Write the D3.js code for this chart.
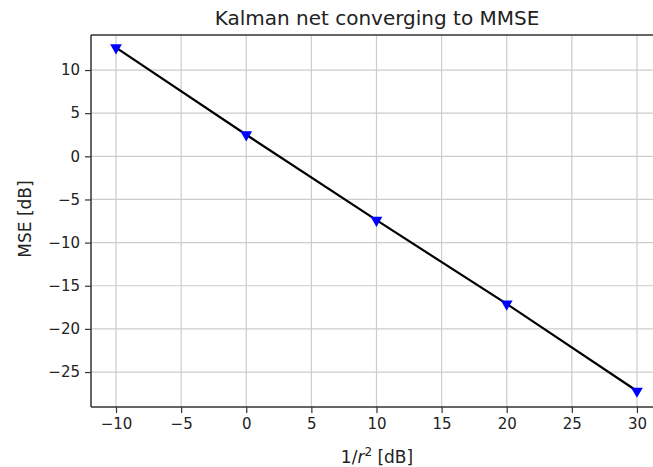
<!DOCTYPE html>
<html>
<head>
<meta charset="utf-8">
<script src="https://cdn.jsdelivr.net/npm/d3@7"></script>
<style>
  body { margin: 0; background: #fff; overflow: hidden; }
  svg { display: block; font-family: "DejaVu Sans", sans-serif; overflow: hidden; }
</style>
</head>
<body>
<svg id="chart" width="653" height="467"></svg>
<script>
// data
let snr = [-10, 0, 10, 20, 30];
let mse = [12.6, 2.5, -7.4, -17.1, -27.2];
let xTicks = [-10, -5, 0, 5, 10, 15, 20, 25, 30];
let yTicks = [10, 5, 0, -5, -10, -15, -20, -25];

let width = 653, height = 467;
let plotLeft = 91, plotRight = 663, plotTop = 35, plotBottom = 407;
let visRight = Math.min(plotRight, width);

let svg = d3.select('#chart');

let x = d3.scaleLinear().domain([-11.92, 32]).range([plotLeft, plotRight]);
let y = d3.scaleLinear().domain([-29.05, 14.06]).range([plotBottom, plotTop]);

let fmt = d => d < 0 ? '\u2212' + Math.abs(d) : String(d);

// grid
svg.append('g').selectAll('line').data(xTicks).join('line')
    .attr('x1', d => x(d)).attr('x2', d => x(d))
    .attr('y1', plotTop).attr('y2', plotBottom)
    .attr('stroke', '#cccccc').attr('stroke-width', 1.2);
svg.append('g').selectAll('line').data(yTicks).join('line')
    .attr('y1', d => y(d)).attr('y2', d => y(d))
    .attr('x1', plotLeft).attr('x2', visRight)
    .attr('stroke', '#cccccc').attr('stroke-width', 1.2);

// axes
let xAxis = svg.append('g')
    .attr('transform', `translate(0,${plotBottom})`)
    .call(d3.axisBottom(x).tickValues(xTicks).tickFormat(fmt).tickSize(6).tickPadding(5));
let yAxis = svg.append('g')
    .attr('transform', `translate(${plotLeft},0)`)
    .call(d3.axisLeft(y).tickValues(yTicks).tickFormat(fmt).tickSize(6).tickPadding(5));

[xAxis, yAxis].forEach(g => {
    g.select('.domain').remove();
    g.selectAll('line').attr('stroke', '#333').attr('stroke-width', 1.2);
    g.selectAll('text').attr('font-size', 15).attr('fill', '#222')
        .attr('font-family', '"DejaVu Sans", sans-serif');
});

// frame (right spine is off the picture)
let frame = [
    [plotLeft, plotTop, visRight, plotTop],
    [plotLeft, plotTop, plotLeft, plotBottom],
    [plotLeft, plotBottom, visRight, plotBottom]
];
svg.append('g').selectAll('line').data(frame).join('line')
    .attr('x1', d => d[0]).attr('y1', d => d[1])
    .attr('x2', d => d[2]).attr('y2', d => d[3])
    .attr('stroke', '#333').attr('stroke-width', 1.5);

// line
let line = d3.line()
    .x((d, i) => x(snr[i]))
    .y(d => y(d));

svg.append('path')
    .datum(mse)
    .attr('fill', 'none')
    .attr('stroke', '#000')
    .attr('stroke-width', 2.2)
    .attr('d', line);

// markers (triangle down)
let tri = d3.symbol().type(d3.symbolTriangle).size(60);
svg.append('g').selectAll('path').data(mse).join('path')
    .attr('d', tri)
    .attr('transform', (d, i) => `translate(${x(snr[i])},${y(d)}) rotate(180)`)
    .attr('fill', '#0000ff');

// title and labels
svg.append('text')
    .attr('x', (plotLeft + plotRight) / 2).attr('y', 25)
    .attr('text-anchor', 'middle')
    .attr('font-size', 20).attr('fill', '#222')
    .text('Kalman net converging to MMSE');

let xl = svg.append('text')
    .attr('x', (plotLeft + plotRight) / 2).attr('y', 463)
    .attr('text-anchor', 'middle')
    .attr('font-size', 17).attr('fill', '#222');
xl.append('tspan').text('1/');
xl.append('tspan').attr('font-style', 'italic').text('r');
xl.append('tspan').attr('dy', -7).attr('font-size', 12).text('2');
xl.append('tspan').attr('dy', 7).text(' [dB]');

svg.append('text')
    .attr('transform', `translate(31,${(plotTop + plotBottom) / 2 - 2}) rotate(-90)`)
    .attr('text-anchor', 'middle')
    .attr('font-size', 17).attr('fill', '#222')
    .text('MSE [dB]');
</script>
</body>
</html>
